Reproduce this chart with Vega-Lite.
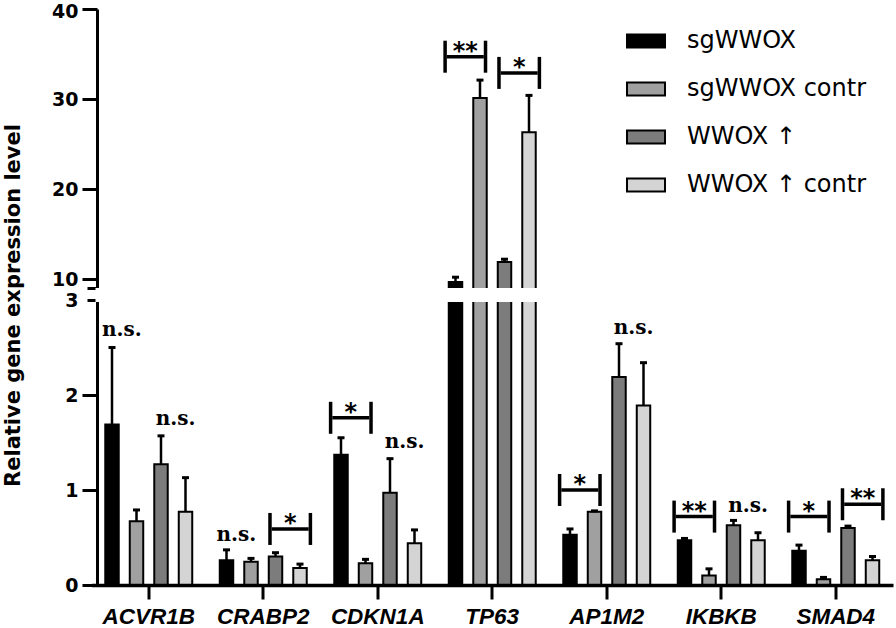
{
  "$schema": "https://vega.github.io/schema/vega-lite/v6.json",
  "width": 797.5,
  "height": 576,
  "autosize": "none",
  "padding": {"left": 95.5, "top": 9, "right": 3, "bottom": 43},
  "config": {"view": {"stroke": null}, "font": "DejaVu Sans", "axis": {"grid": false}, "tick": {"opacity": 1}},
  "datasets": {
    "bars": [
      {"gene": "ACVR1B", "group": "sgWWOX", "value": 1.69, "upper": 2.5},
      {"gene": "ACVR1B", "group": "sgWWOX contr", "value": 0.67, "upper": 0.79},
      {"gene": "ACVR1B", "group": "WWOX ↑", "value": 1.27, "upper": 1.57},
      {"gene": "ACVR1B", "group": "WWOX ↑ contr", "value": 0.77, "upper": 1.13},
      {"gene": "CRABP2", "group": "sgWWOX", "value": 0.26, "upper": 0.37},
      {"gene": "CRABP2", "group": "sgWWOX contr", "value": 0.245, "upper": 0.28},
      {"gene": "CRABP2", "group": "WWOX ↑", "value": 0.3, "upper": 0.34},
      {"gene": "CRABP2", "group": "WWOX ↑ contr", "value": 0.18, "upper": 0.22},
      {"gene": "CDKN1A", "group": "sgWWOX", "value": 1.37, "upper": 1.55},
      {"gene": "CDKN1A", "group": "sgWWOX contr", "value": 0.23, "upper": 0.27},
      {"gene": "CDKN1A", "group": "WWOX ↑", "value": 0.97, "upper": 1.33},
      {"gene": "CDKN1A", "group": "WWOX ↑ contr", "value": 0.44, "upper": 0.58},
      {"gene": "TP63", "group": "sgWWOX", "value": 9.67, "upper": 10.2},
      {"gene": "TP63", "group": "sgWWOX contr", "value": 30.1, "upper": 32.1},
      {"gene": "TP63", "group": "WWOX ↑", "value": 11.9, "upper": 12.2},
      {"gene": "TP63", "group": "WWOX ↑ contr", "value": 26.3, "upper": 30.4},
      {"gene": "AP1M2", "group": "sgWWOX", "value": 0.53, "upper": 0.59},
      {"gene": "AP1M2", "group": "sgWWOX contr", "value": 0.77, "upper": 0.78},
      {"gene": "AP1M2", "group": "WWOX ↑", "value": 2.19, "upper": 2.54},
      {"gene": "AP1M2", "group": "WWOX ↑ contr", "value": 1.89, "upper": 2.34},
      {"gene": "IKBKB", "group": "sgWWOX", "value": 0.47, "upper": 0.49},
      {"gene": "IKBKB", "group": "sgWWOX contr", "value": 0.1, "upper": 0.17},
      {"gene": "IKBKB", "group": "WWOX ↑", "value": 0.63, "upper": 0.68},
      {"gene": "IKBKB", "group": "WWOX ↑ contr", "value": 0.47, "upper": 0.55},
      {"gene": "SMAD4", "group": "sgWWOX", "value": 0.36, "upper": 0.42},
      {"gene": "SMAD4", "group": "sgWWOX contr", "value": 0.06, "upper": 0.08},
      {"gene": "SMAD4", "group": "WWOX ↑", "value": 0.6, "upper": 0.62},
      {"gene": "SMAD4", "group": "WWOX ↑ contr", "value": 0.26, "upper": 0.3}
    ],
    "brackets": [
      {"gene": "CRABP2", "from": "L3", "mid": "M34", "to": "R4", "level": 0.59, "label": "*"},
      {"gene": "CDKN1A", "from": "L1", "mid": "M12", "to": "R2", "level": 1.76, "label": "*"},
      {"gene": "TP63", "from": "L1", "mid": "M12", "to": "R2", "level": 34.7, "label": "**"},
      {"gene": "TP63", "from": "L3", "mid": "M34", "to": "R4", "level": 32.9, "label": "*"},
      {"gene": "AP1M2", "from": "L1", "mid": "M12", "to": "R2", "level": 1.0, "label": "*"},
      {"gene": "IKBKB", "from": "L1", "mid": "M12", "to": "R2", "level": 0.72, "label": "**"},
      {"gene": "SMAD4", "from": "L1", "mid": "M12", "to": "R2", "level": 0.72, "label": "*"},
      {"gene": "SMAD4", "from": "L3", "mid": "M34", "to": "R4", "level": 0.85, "label": "**"}
    ],
    "ns": [
      {"gene": "ACVR1B", "mid": "M12", "level": 2.62, "label": "n.s."},
      {"gene": "ACVR1B", "mid": "M34", "level": 1.68, "label": "n.s."},
      {"gene": "CRABP2", "mid": "M12", "level": 0.46, "label": "n.s."},
      {"gene": "CDKN1A", "mid": "M34", "level": 1.44, "label": "n.s."},
      {"gene": "AP1M2", "mid": "M34", "level": 2.64, "label": "n.s."},
      {"gene": "IKBKB", "mid": "M34", "level": 0.77, "label": "n.s."}
    ]
  },
  "layer": [
    {
      "data": {"name": "bars"},
      "layer": [
        {
          "mark": {"type": "bar", "stroke": "black", "strokeWidth": 2},
          "encoding": {
            "x": {
              "field": "gene", "type": "nominal", "sort": null, "title": null,
              "scale": {"domain": ["ACVR1B", "CRABP2", "CDKN1A", "TP63", "AP1M2", "IKBKB", "SMAD4"], "range": [-4, 797.5], "paddingInner": 0, "paddingOuter": 0},
              "axis": {
                "zindex": 1, "grid": false, "labelAngle": 0, "labelFont": "Liberation Sans", "labelFontWeight": "bold", "labelFontStyle": "italic",
                "labelFontSize": 22.5, "labelColor": "black", "labelPadding": 6, "tickSize": 14, "tickWidth": 3, "tickColor": "black",
                "domainWidth": 3.5, "domainColor": "black"
              }
            },
            "xOffset": {
              "field": "group", "type": "nominal", "sort": null,
              "scale": {"domain": ["sgWWOX", "sgWWOX contr", "WWOX ↑", "WWOX ↑ contr"], "paddingInner": 0.45, "paddingOuter": 0.5617}
            },
            "y": {
              "field": "value", "type": "quantitative", "title": "Relative gene expression level",
              "scale": {"type": "linear", "domain": [0, 3, 9, 40], "range": [576, 291, 279, 0], "nice": false, "zero": false},
              "axis": {
                "zindex": 0, "grid": false, "offset": -1.5, "values": [0, 1, 2, 3, 9, 10, 20, 30, 40],
                "labelExpr": "datum.value == 9 ? '' : datum.label",
                "tickSize": {"condition": {"test": "datum.value == 3 || datum.value == 9", "value": 10}, "value": 15},
                "labelPadding": {"condition": {"test": "datum.value == 3", "value": 9}, "value": 4},
                "labelOffset": {"condition": {"test": "datum.value == 40", "value": 2}, "value": 0},
                "tickWidth": 3, "tickColor": "black", "domainWidth": 3, "domainColor": "black",
                "labelFont": "DejaVu Sans", "labelFontWeight": "bold", "labelFontSize": 19, "labelColor": "black",
                "titleFont": "DejaVu Sans", "titleFontWeight": "bold", "titleFontSize": 21, "titleColor": "black",
                "titleX": -78, "titleY": 296, "titleAngle": -90, "titleAlign": "center", "titleBaseline": "alphabetic"
              }
            },
            "fill": {
              "field": "group", "type": "nominal", "sort": null,
              "scale": {"domain": ["sgWWOX", "sgWWOX contr", "WWOX ↑", "WWOX ↑ contr"], "range": ["#000000", "#a0a0a0", "#7c7c7c", "#d4d4d4"]},
              "legend": {
                "orient": "none", "legendX": 530.5, "legendY": 12, "title": null, "padding": 0,
                "symbolType": "M-1,-0.34H1V0.34H-1Z", "symbolSize": 1444, "symbolStrokeColor": "black", "symbolStrokeWidth": 2,
                "labelFont": "DejaVu Sans", "labelFontSize": 24, "labelColor": "black", "labelOffset": 21, "rowPadding": 16,
                "labelLimit": 300
              }
            }
          }
        },
        {
          "mark": {"type": "rule", "color": "black", "strokeWidth": 2.5},
          "encoding": {
            "x": {"field": "gene", "type": "nominal", "sort": null, "title": null},
            "xOffset": {"field": "group", "type": "nominal", "sort": null},
            "y": {"field": "value", "type": "quantitative", "title": "Relative gene expression level"},
            "y2": {"field": "upper"}
          }
        },
        {
          "mark": {"type": "tick", "color": "black", "opacity": 1, "thickness": 3, "size": 7, "orient": "horizontal"},
          "encoding": {
            "x": {"field": "gene", "type": "nominal", "sort": null, "title": null},
            "xOffset": {"field": "group", "type": "nominal", "sort": null},
            "y": {"field": "upper", "type": "quantitative", "title": "Relative gene expression level"}
          }
        }
      ]
    },
    {
      "data": {"values": [{}]},
      "mark": {"type": "rect", "fill": "white"},
      "encoding": {
        "y": {"datum": 9, "type": "quantitative", "title": "Relative gene expression level"},
        "y2": {"datum": 2.98}
      }
    },
    {
      "layer": [
        {
          "data": {"name": "brackets"},
          "mark": {"type": "tick", "color": "black", "opacity": 1, "thickness": 3.5, "size": 37, "orient": "horizontal"},
          "encoding": {
            "x": {"field": "gene", "type": "nominal", "sort": null, "title": null},
            "xOffset": {
              "field": "mid", "type": "nominal", "sort": null,
              "scale": {"domain": ["L1", "B1", "R1", "M12", "L2", "B2", "R2", "M23", "L3", "B3", "R3", "M34", "L4", "B4", "R4"], "paddingInner": 0, "paddingOuter": 1.847}
            },
            "y": {"field": "level", "type": "quantitative", "title": "Relative gene expression level"}
          }
        },
        {
          "data": {"name": "brackets"},
          "mark": {"type": "tick", "color": "black", "opacity": 1, "thickness": 3.5, "size": 32, "orient": "vertical"},
          "encoding": {
            "x": {"field": "gene", "type": "nominal", "sort": null, "title": null},
            "xOffset": {"field": "from", "type": "nominal", "sort": null},
            "y": {"field": "level", "type": "quantitative", "title": "Relative gene expression level"}
          }
        },
        {
          "data": {"name": "brackets"},
          "mark": {"type": "tick", "color": "black", "opacity": 1, "thickness": 3.5, "size": 32, "orient": "vertical"},
          "encoding": {
            "x": {"field": "gene", "type": "nominal", "sort": null, "title": null},
            "xOffset": {"field": "to", "type": "nominal", "sort": null},
            "y": {"field": "level", "type": "quantitative", "title": "Relative gene expression level"}
          }
        },
        {
          "data": {"name": "brackets"},
          "mark": {"type": "text", "font": "DejaVu Sans", "fontWeight": "bold", "fontSize": 24, "baseline": "alphabetic", "align": "center", "dy": 2, "color": "black"},
          "encoding": {
            "x": {"field": "gene", "type": "nominal", "sort": null, "title": null},
            "xOffset": {"field": "mid", "type": "nominal", "sort": null},
            "y": {"field": "level", "type": "quantitative", "title": "Relative gene expression level"},
            "text": {"field": "label"}
          }
        },
        {
          "data": {"name": "ns"},
          "mark": {"type": "text", "font": "DejaVu Serif", "fontWeight": "bold", "fontSize": 20, "baseline": "alphabetic", "align": "center", "color": "black"},
          "encoding": {
            "x": {"field": "gene", "type": "nominal", "sort": null, "title": null},
            "xOffset": {"field": "mid", "type": "nominal", "sort": null},
            "y": {"field": "level", "type": "quantitative", "title": "Relative gene expression level"},
            "text": {"field": "label"}
          }
        }
      ]
    }
  ],
  "resolve": {"scale": {"xOffset": "independent"}}
}
